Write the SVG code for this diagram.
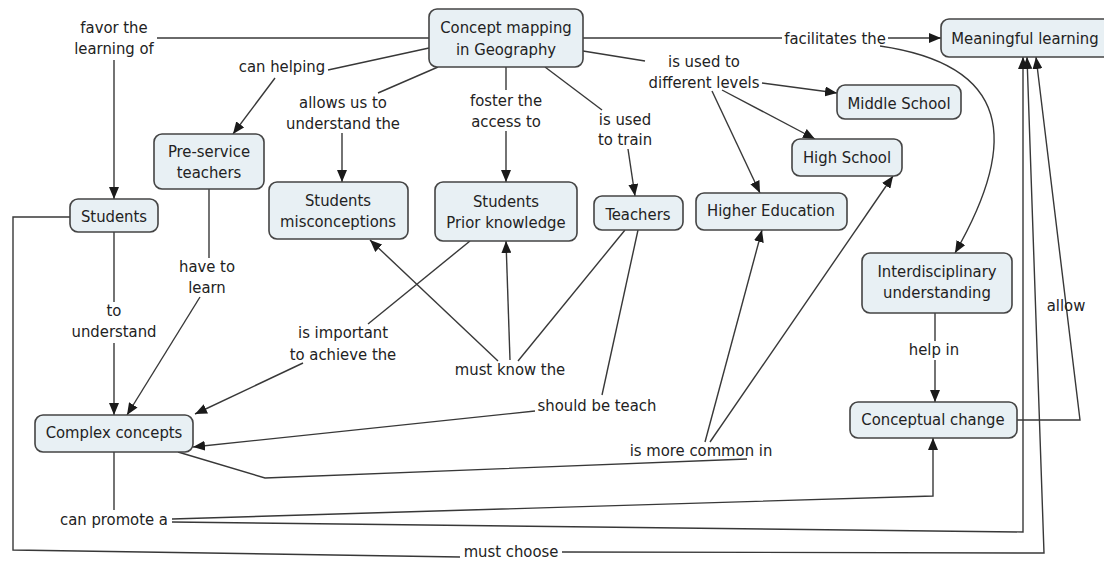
<svg xmlns="http://www.w3.org/2000/svg" width="1104" height="561" viewBox="0 0 1104 561">
<defs>
<marker id="arr" viewBox="0 0 12 10" refX="12" refY="5" markerWidth="12" markerHeight="10" orient="auto" markerUnits="userSpaceOnUse"><path d="M0,0 L12,5 L0,10 z" fill="#1a1a1a"/></marker>
<style>
.n rect{fill:#e8f0f4;stroke:#444;stroke-width:1.6}
text{font-family:"DejaVu Sans Condensed","DejaVu Sans",sans-serif;font-size:16.5px;fill:#222;text-anchor:middle}
.c path{fill:none;stroke:#383838;stroke-width:1.4}
.c path.a{marker-end:url(#arr)}
</style>
</defs>
<rect width="1104" height="561" fill="#fff"/>
<g class="c">
<path d="M157 38 L429 38"/>
<path class="a" d="M114 60 L114 199"/>
<path d="M429 48 L328 70"/>
<path class="a" d="M275 78 L233 134"/>
<path d="M438 67 L378 93"/>
<path class="a" d="M342 133 L342 182"/>
<path d="M506 67 L506 90"/>
<path class="a" d="M506 131 L506 182"/>
<path d="M545 67 L602 110"/>
<path class="a" d="M628 149 L635 196"/>
<path d="M583 51 L645 61"/>
<path class="a" d="M762 83 L837 93"/>
<path class="a" d="M722 90 L815 139"/>
<path class="a" d="M712 91 L760 193"/>
<path d="M583 38 L782 38"/>
<path class="a" d="M888 38 L941 38"/>
<path class="a" d="M880 46 C1010 65 1020 140 955 253"/>
<path d="M114 232 L114 302"/>
<path class="a" d="M114 343 L114 415"/>
<path d="M209 189 L209 258"/>
<path class="a" d="M200 297 L127 415"/>
<path d="M70 217 L13 217 L13 550 L460 557"/>
<path class="a" d="M562 552 L1044 553 L1027 57"/>
<path d="M470 241 L368 324"/>
<path class="a" d="M303 363 L195 414"/>
<path class="a" d="M498 361 L370 240"/>
<path class="a" d="M510 360 L506 241"/>
<path d="M518 361 L625 230"/>
<path d="M638 230 L602 395"/>
<path class="a" d="M535 411 L193 447"/>
<path d="M178 452 L265 478 L747 459"/>
<path class="a" d="M705 442 L762 230"/>
<path class="a" d="M710 442 L893 176"/>
<path d="M935 313 L935 341"/>
<path class="a" d="M935 360 L935 402"/>
<path class="a" d="M1017 420 L1080 420 L1036 57"/>
<path d="M114 452 L114 510"/>
<path class="a" d="M172 519 L933 496 L933 438"/>
<path class="a" d="M172 522 L1023 532 L1023 57"/>
</g>
<g id="labels">
<text x="114" y="33">favor the</text><text x="114" y="54">learning of</text>
<text x="282" y="72">can helping</text>
<text x="343" y="108">allows us to</text><text x="343" y="129">understand the</text>
<text x="506" y="106">foster the</text><text x="506" y="127">access to</text>
<text x="625" y="125">is used</text><text x="625" y="145">to train</text>
<text x="704" y="67">is used to</text><text x="704" y="88">different levels</text>
<text x="835" y="44">facilitates the</text>
<text x="207" y="272">have to</text><text x="207" y="293">learn</text>
<text x="114" y="316">to</text><text x="114" y="337">understand</text>
<text x="343" y="338">is important</text><text x="343" y="360">to achieve the</text>
<text x="510" y="375">must know the</text>
<text x="597" y="411">should be teach</text>
<text x="701" y="456">is more common in</text>
<text x="934" y="355">help in</text>
<text x="1066" y="311">allow</text>
<text x="114" y="525">can promote a</text>
<text x="511" y="557">must choose</text>
</g>
<g id="concept" class="n"><rect x="429" y="9" width="154" height="58" rx="8"/><text x="506" y="33">Concept mapping</text><text x="506" y="55">in Geography</text></g>
<g id="meaningful" class="n"><rect x="941" y="19" width="175" height="38" rx="8"/><text x="1025" y="44">Meaningful learning</text></g>
<g id="middle" class="n"><rect x="837" y="85" width="124" height="34" rx="8"/><text x="899" y="109">Middle School</text></g>
<g id="high" class="n"><rect x="792" y="139" width="110" height="37" rx="8"/><text x="847" y="163">High School</text></g>
<g id="higher" class="n"><rect x="696" y="193" width="151" height="37" rx="8"/><text x="771" y="216">Higher Education</text></g>
<g id="teachers" class="n"><rect x="594" y="196" width="89" height="34" rx="8"/><text x="638" y="220">Teachers</text></g>
<g id="prior" class="n"><rect x="435" y="182" width="142" height="59" rx="8"/><text x="506" y="207">Students</text><text x="506" y="228">Prior knowledge</text></g>
<g id="misconceptions" class="n"><rect x="269" y="182" width="139" height="57" rx="8"/><text x="338" y="206">Students</text><text x="338" y="227">misconceptions</text></g>
<g id="preservice" class="n"><rect x="154" y="134" width="110" height="55" rx="8"/><text x="209" y="157">Pre-service</text><text x="209" y="178">teachers</text></g>
<g id="students" class="n"><rect x="70" y="199" width="88" height="33" rx="8"/><text x="114" y="222">Students</text></g>
<g id="complex" class="n"><rect x="35" y="415" width="158" height="37" rx="8"/><text x="114" y="438">Complex concepts</text></g>
<g id="interdisciplinary" class="n"><rect x="862" y="253" width="150" height="60" rx="8"/><text x="937" y="277">Interdisciplinary</text><text x="937" y="298">understanding</text></g>
<g id="conceptual" class="n"><rect x="850" y="402" width="167" height="36" rx="8"/><text x="933" y="425">Conceptual change</text></g>
</svg>
